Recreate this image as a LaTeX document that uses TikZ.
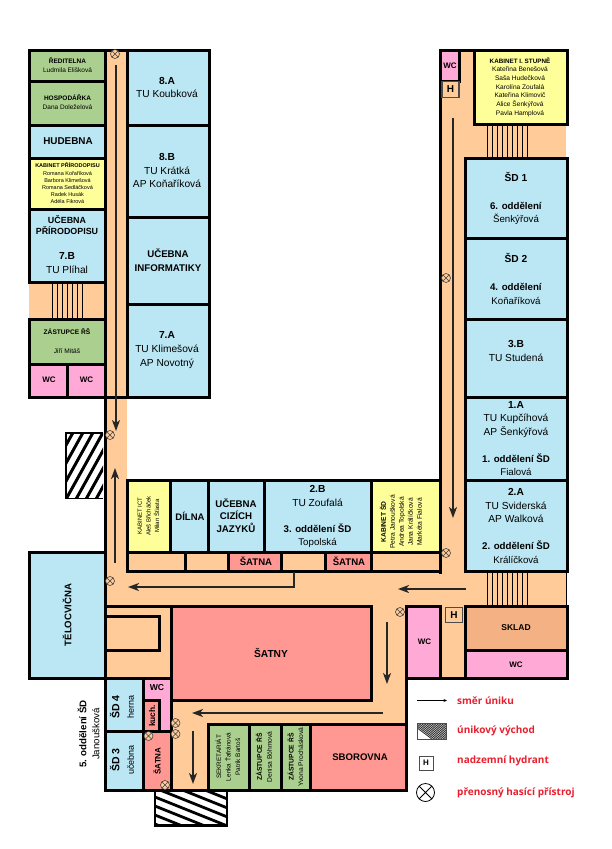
\documentclass[tikz,border=0pt]{standalone}
\usepackage{fontspec}
\setmainfont{Liberation Sans}
\newfontfamily\legendfont{Open Sans}
\usetikzlibrary{arrows.meta}
\definecolor{corr}{HTML}{FFCC99}
\definecolor{blueroom}{HTML}{BBE6F3}
\definecolor{greenroom}{HTML}{ABCF8E}
\definecolor{yellowroom}{HTML}{FFFF99}
\definecolor{pinkroom}{HTML}{FFA9D6}
\definecolor{redroom}{HTML}{FF9793}
\definecolor{skladroom}{HTML}{F4B183}
\definecolor{legendred}{HTML}{E8202E}
\tikzset{
 wall/.style={line width=3pt,draw=black,line cap=rect},
 stairline/.style={line width=1pt,draw=black},
 escape/.style={line width=1.6pt,draw=black!85,-{Stealth[length=11pt,width=8pt,inset=3pt]}},
 hbox/.style={draw=black!70,line width=1.5pt,fill=corr,minimum width=17pt,minimum height=16pt,inner sep=0pt,font=\bfseries\fontsize{10}{10}\selectfont},
 ext/.style={circle,draw=black!75,fill=corr,line width=.6pt,minimum size=9pt,inner sep=0pt,path picture={\draw[black!75,line width=.6pt] (path picture bounding box.north west)--(path picture bounding box.south east) (path picture bounding box.north east)--(path picture bounding box.south west);}},
 big/.style={align=center,font=\fontsize{10.2}{13.6}\selectfont},
 small/.style={align=center,font=\fontsize{6.5}{9.5}\selectfont},
 tiny/.style={align=center,font=\fontsize{5.5}{7.2}\selectfont},
 wcl/.style={font=\bfseries\fontsize{8}{8}\selectfont},
 legendtext/.style={anchor=west,inner sep=0pt,text=legendred,font=\legendfont\bfseries\fontsize{10}{10}\selectfont},
}
\newcommand{\rb}[5]{\fill[#1] (#2,#3) rectangle (#4,#5);}
\newcommand{\hb}[1]{\textbf{#1}}
\newcommand{\sdl}[1]{{\fontsize{9.7}{13}\selectfont\textbf{#1}}}
\newcommand{\nml}[1]{{\fontsize{9.7}{13}\selectfont #1}}
\begin{document}
\begin{tikzpicture}[x=1pt,y=-1pt]
\useasboundingbox (0,0) rectangle (612,849);
\fill[white] (0,0) rectangle (612,849);
% corridors
\rb{corr}{105}{50}{127}{606}
\rb{corr}{440}{50}{466}{606}
\rb{corr}{105}{572}{566}{606}
\rb{corr}{466}{124}{566}{158}
\rb{corr}{29}{283}{105}{319}
\rb{corr}{105}{606}{171}{679}
\rb{corr}{127}{553}{440}{572}
\rb{corr}{171}{700}{407}{725}
\rb{corr}{172}{700}{208}{790}
\rb{corr}{371}{606}{407}{725}
\rb{corr}{440}{606}{466}{679}
\rb{corr}{456}{50}{474}{158}
% rooms
\rb{greenroom}{30}{51}{105}{81}
\rb{greenroom}{30}{81}{105}{125}
\rb{blueroom}{30}{125}{105}{158}
\rb{yellowroom}{30}{158}{105}{209}
\rb{blueroom}{30}{209}{105}{283}
\rb{greenroom}{30}{319}{105}{364}
\rb{pinkroom}{30}{364}{67}{397}
\rb{pinkroom}{67}{364}{105}{397}
\rb{blueroom}{127}{51}{209}{125}
\rb{blueroom}{127}{125}{209}{217}
\rb{blueroom}{127}{217}{209}{304}
\rb{blueroom}{127}{304}{209}{397}
\rb{pinkroom}{441}{51}{459}{81}
\rb{yellowroom}{474}{51}{566}{125}
\rb{blueroom}{466}{158}{566}{238}
\rb{blueroom}{466}{238}{566}{319}
\rb{blueroom}{466}{319}{566}{397}
\rb{blueroom}{466}{397}{566}{480}
\rb{blueroom}{466}{480}{566}{572}
\rb{yellowroom}{127}{481}{171}{553}
\rb{blueroom}{171}{481}{209}{553}
\rb{blueroom}{209}{481}{265}{553}
\rb{blueroom}{265}{481}{371}{553}
\rb{yellowroom}{371}{481}{440}{553}
\rb{redroom}{229}{553}{282}{571}
\rb{redroom}{326}{553}{371}{571}
\rb{blueroom}{30}{553}{105}{679}
\rb{redroom}{171}{606}{371}{700}
\rb{pinkroom}{407}{606}{440}{679}
\rb{skladroom}{466}{606}{566}{651}
\rb{pinkroom}{466}{651}{566}{679}
\rb{blueroom}{105}{679}{144}{732}
\rb{blueroom}{105}{732}{144}{790}
\rb{pinkroom}{144}{679}{171}{732}
\rb{redroom}{144}{700}{160}{732}
\rb{redroom}{144}{732}{171}{790}
\rb{greenroom}{208}{725}{249}{790}
\rb{greenroom}{249}{725}{282}{790}
\rb{greenroom}{282}{725}{311}{790}
\rb{redroom}{311}{725}{407}{790}
% stairs
\foreach \x in {52,57,...,82} \draw[stairline] (\x,284)--(\x,318);
\foreach \x in {487,492,...,527} \draw[stairline] (\x,126)--(\x,157);
\foreach \x in {487,492,...,527} \draw[stairline] (\x,572)--(\x,606);
\draw[line width=.6pt] (566.5,572)--(566.5,606);
% walls
\draw[wall] (29.5,50)--(209,50)--(209,397)--(29.5,397);
\draw[wall] (29.5,50)--(29.5,282);
\draw[wall] (29.5,319)--(29.5,397);
\draw[wall] (105,50)--(105,790);
\draw[wall] (127,50)--(127,397);
\foreach \y in {81,125,209,282,319,364} \draw[wall] (29.5,\y)--(105,\y);
\draw[wall] (29.5,158)--(105,158);
\draw[wall] (67.5,364)--(67.5,397);
\foreach \y in {125,217,304} \draw[wall] (127,\y)--(209,\y);
% right wing
\draw[wall] (440.5,50)--(567,50);
\draw[wall] (440.5,50)--(440.5,572);
\draw[wall] (567,50)--(567,124.5);
\draw[wall] (459.5,50)--(459.5,81)--(440.5,81);
\draw[wall] (474.5,50)--(474.5,124.5)--(567,124.5);
\draw[wall] (465.5,158.5)--(567,158.5)--(567,571.5)--(465.5,571.5)--cycle;
\foreach \y in {238,319,397,480} \draw[wall] (465.5,\y)--(567,\y);
% middle wing
\draw[wall] (127,480.5)--(440.5,480.5);
\draw[wall] (127,480.5)--(127,571.5)--(440.5,571.5);
\draw[wall] (127,552.5)--(440.5,552.5);
\foreach \x in {170.5,208.5,264.5,371} \draw[wall] (\x,480.5)--(\x,552.5);
\foreach \x in {185.5,228.5,281.5,325.5,371} \draw[wall] (\x,552.5)--(\x,571.5);
% gym
\draw[wall] (29.5,552.5)--(105,552.5);
\draw[wall] (29.5,552.5)--(29.5,678.5)--(171,678.5);
% lower block
\draw[wall] (105,606.5)--(371.5,606.5);
\draw[wall] (106,616)--(159,616)--(159,650.5)--(106,650.5);
\draw[wall] (171,606.5)--(171,790.5);
\draw[wall] (371.5,606.5)--(371.5,700)--(171,700);
\draw[wall] (406.5,606.5)--(406.5,790.5);
\draw[wall] (406.5,606.5)--(440.5,606.5)--(440.5,678.5);
\draw[wall] (406.5,678.5)--(567,678.5);
\draw[wall] (465.5,606.5)--(567,606.5)--(567,678.5);
\draw[wall] (465.5,606.5)--(465.5,678.5);
\draw[wall] (465.5,650.5)--(567,650.5);
\draw[wall] (208.5,724.5)--(406.5,724.5);
\draw[wall] (208.5,724.5)--(208.5,790.5);
\draw[wall] (105,790.5)--(406.5,790.5);
\foreach \x in {249,281.5,310.5} \draw[wall] (\x,724.5)--(\x,790.5);
\draw[wall] (105,731.5)--(171,731.5);
\draw[wall] (143.5,679)--(143.5,790);
\draw[wall] (144,700)--(159.5,700)--(159.5,731);
% exits
\begin{scope}
\clip (66,433) rectangle (103,498.5);
\foreach \i in {0,10,...,150} \draw[line width=3pt] (\i+30,420)--(\i-20,510);
\end{scope}
\draw[line width=1.8pt] (103,433)--(66,433)--(66,498.5)--(103,498.5);
\begin{scope}
\clip (155,792) rectangle (227,825);
\foreach \i in {0,9,...,100} \draw[line width=2.8pt] (150,750+\i)--(230,782+\i);
\end{scope}
\draw[line width=2.2pt] (155,792)--(155,825.5)--(227,825.5)--(227,792);
% arrows
\draw[escape] (116,65)--(116,431);
\draw[escape] (115,563)--(115,468);
\draw[escape,line join=miter] (294,572)--(294,587)--(128,587);
\draw[escape] (453,118)--(453,518);
\draw[escape] (466,589)--(398,589);
\draw[escape] (387,622)--(387,684);
\draw[escape] (383,713)--(192,713);
\draw[escape] (193,731)--(193,784);
% extinguishers
\foreach \n/\x/\y in {e1/115/54,e2/110/435,e3/110/581,e4/446/278,e5/446/553,e6/400/612,e7/175.5/723,e8/175.5/734,e9/148.5/736,e10/165/785}
  \node[ext] (\n) at (\x,\y) {};
% hydrants
\node[hbox] (h1) at (450.5,89.5) {H};
\node[hbox,minimum height=15pt] (h2) at (454,615) {H};
% left wing text
\node[small] (t1) at (67.5,65) {\hb{ŘEDITELNA}\\Ludmila Elišková};
\node[small] (t2) at (67.5,102) {\hb{HOSPODÁŘKA}\\Dana Doleželová};
\node[font=\bfseries\fontsize{9.9}{9.9}\selectfont] (t3) at (68,141) {HUDEBNA};
\node[tiny] (t4) at (67.5,183.5) {\hb{KABINET PŘÍRODOPISU}\\Romana Kořaříková\\Barbora Klimešová\\Romana Sedláčková\\Radek Husák\\Adéla Fikrová};
\node[align=center,font=\bfseries\fontsize{8.9}{11.3}\selectfont] (t5) at (67,225) {UČEBNA\\PŘÍRODOPISU};
\node[big] (t6) at (67,263) {\hb{7.B}\\TU Plíhal};
\node[align=center,font=\fontsize{6.6}{8.2}\selectfont] (t7) at (67,341) {\hb{ZÁSTUPCE ŘŠ}\\[10.8pt]Jiří Mitáš};
\node[wcl] (t8) at (49,380) {WC};
\node[wcl] (t9) at (86.5,380) {WC};
% second column
\node[big] (t10) at (167,87.5) {\hb{8.A}\\TU Koubková};
\node[big] (t11) at (167,170.5) {\hb{8.B}\\TU Krátká\\AP Koňaříková};
\node[align=center,font=\bfseries\fontsize{9.7}{13.5}\selectfont] (t12) at (168,260) {UČEBNA\\INFORMATIKY};
\node[big] (t13) at (167,350) {\hb{7.A}\\TU Klimešová\\AP Novotný};
% right wing
\node[wcl] (t14) at (450,65.5) {WC};
\node[align=center,font=\fontsize{6.6}{8.7}\selectfont] (t15) at (520,87) {{\fontsize{6.3}{8.7}\selectfont\hb{KABINET I. STUPNĚ}}\\Kateřina Benešová\\Saša Hudečková\\Karolína Zoufalá\\Kateřina Klimovič\\Alice Šenkýřová\\Pavla Hamplová};
\node[big] (t16) at (516,198.5) {\hb{ŠD 1}\\[14.4pt]\sdl{6. oddělení}\\\nml{Šenkýřová}};
\node[big] (t17) at (516,279) {\hb{ŠD 2}\\[14.4pt]\sdl{4. oddělení}\\\nml{Koňaříková}};
\node[big] (t18) at (516,351) {\hb{3.B}\\TU Studená};
\node[big] (t19) at (516,438.5) {\hb{1.A}\\TU Kupčíhová\\AP Šenkýřová\\[13.4pt]\sdl{1. oddělení ŠD}\\\nml{Fialová}};
\node[big] (t20) at (516,526) {\hb{2.A}\\TU Sviderská\\AP Walková\\[13.4pt]\sdl{2. oddělení ŠD}\\\nml{Králíčková}};
% middle wing
\node[align=center,rotate=90,font=\fontsize{6}{8.6}\selectfont] (t21) at (148.5,516) {KABINET ICT\\Aleš Břicháček\\Milan Šťasta};
\node[font=\bfseries\fontsize{9.5}{9.5}\selectfont] (t22) at (190,516.5) {DÍLNA};
\node[align=center,font=\bfseries\fontsize{9.7}{12.6}\selectfont] (t23) at (236,515.5) {UČEBNA\\CIZÍCH\\JAZYKŮ};
\node[big] (t24) at (317.5,516.5) {\hb{2.B}\\TU Zoufalá\\[12.4pt]\sdl{3. oddělení ŠD}\\\nml{Topolská}};
\node[align=center,rotate=90,font=\fontsize{6.7}{9}\selectfont] (t25) at (401,522) {\hb{KABINET ŠD}\\Petra Janoušková\\Andrea Topolská\\Jana Králíčková\\Markéta Fialová};
\node[font=\bfseries\fontsize{9.6}{9.6}\selectfont] (t26) at (256,561.5) {ŠATNA};
\node[font=\bfseries\fontsize{9.6}{9.6}\selectfont] (t27) at (349,561.5) {ŠATNA};
% lower
\node[rotate=90,font=\bfseries\fontsize{9.6}{9.6}\selectfont] (t28) at (67,615) {TĚLOCVIČNA};
\node[font=\bfseries\fontsize{10.2}{10.2}\selectfont] (t29) at (271,653) {ŠATNY};
\node[wcl] (t30) at (424.5,642) {WC};
\node[font=\bfseries\fontsize{8.5}{8.5}\selectfont] (t31) at (516,628) {SKLAD};
\node[wcl] (t32) at (516,664.5) {WC};
\node[font=\bfseries\fontsize{9.6}{9.6}\selectfont] (t33) at (360,757) {SBOROVNA};
\node[rotate=90,align=center,font=\fontsize{6.4}{9.5}\selectfont] (t34) at (228,757) {SEKRETARIÁT\\Lenka Ťafránová\\Patrik Bartoš};
\node[rotate=90,align=center,font=\fontsize{6.7}{10}\selectfont] (t35) at (264,757) {\hb{ZÁSTUPCE ŘŠ}\\Denisa Böhmová};
\node[rotate=90,align=center,font=\fontsize{6.7}{9.5}\selectfont] (t36) at (295.5,757) {\hb{ZÁSTUPCE ŘŠ}\\Yvona Prochásková};
\node[rotate=90,align=center,font=\fontsize{9}{14.5}\selectfont] (t37) at (122,707) {{\fontsize{10.5}{14.5}\selectfont\hb{ŠD 4}}\\herna};
\node[rotate=90,align=center,font=\fontsize{9}{14.5}\selectfont] (t38) at (122,760) {{\fontsize{10.5}{14.5}\selectfont\hb{ŠD 3}}\\učebna};
\node[font=\bfseries\fontsize{8.6}{8.6}\selectfont] (t39) at (157,688) {WC};
\node[rotate=90,font=\bfseries\fontsize{8.4}{8.4}\selectfont] (t40) at (152,716) {kuch.};
\node[rotate=90,font=\bfseries\fontsize{8}{8}\selectfont] (t41) at (157,761) {ŠATNA};
\node[rotate=90,align=center,font=\fontsize{9.7}{13}\selectfont] (t42) at (88.5,734) {\hb{5. oddělení ŠD}\\Janoušková};
% legend
\coordinate (la) at (417,700.5);
\coordinate (lb) at (447,700.5);
\draw[line width=.6pt,-{Stealth[length=3.5pt,width=3pt]}] (la)--(lb);
\begin{scope}
\clip (417,723) rectangle (446,739);
\foreach \i in {0,2.5,...,50} \draw[line width=.9pt,black!80] (\i+400,715)--(\i+440,745);
\end{scope}
\draw[line width=.8pt,black!70] (417,723) rectangle (446,739);
\node[draw=black!70,line width=1pt,minimum size=14pt,inner sep=0pt,fill=white,font=\bfseries\fontsize{8}{8}\selectfont] (lh) at (426,763) {H};
\node[circle,draw=black,line width=.8pt,minimum size=18pt,inner sep=0pt,path picture={\draw[line width=.8pt] (path picture bounding box.north west)--(path picture bounding box.south east) (path picture bounding box.north east)--(path picture bounding box.south west);}] (lx) at (425.5,792.5) {};
\node[legendtext] (l1) at (457,700.5) {směr úniku};
\node[legendtext] (l2) at (457,730.5) {únikový východ};
\node[legendtext] (l3) at (457,760.5) {nadzemní hydrant};
\node[legendtext] (l4) at (457,793) {přenosný hasící přístroj};
\end{tikzpicture}
\end{document}
